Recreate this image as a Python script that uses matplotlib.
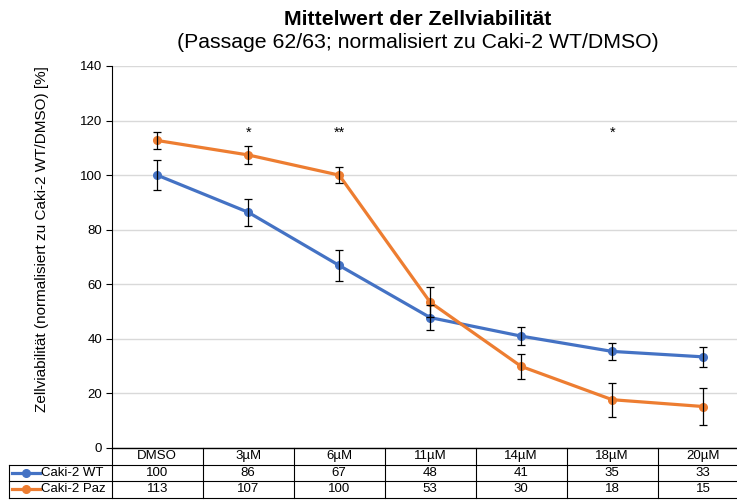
import numpy as np
import matplotlib.pyplot as plt

plt.rcParams['font.family'] = ['Liberation Sans', 'DejaVu Sans']

# Data
categories = ['DMSO', '3µM', '6µM', '11µM', '14µM', '18µM', '20µM']
series_names = ['Caki-2 WT', 'Caki-2 Paz']
wt_mean = [100.0, 86.4, 66.9, 47.8, 41.0, 35.4, 33.4]
paz_mean = [112.7, 107.4, 100.0, 53.4, 29.9, 17.7, 15.2]
wt_err = [5.4, 4.9, 5.6, 4.5, 3.2, 3.0, 3.7]
paz_err = [3.2, 3.4, 3.0, 5.5, 4.6, 6.2, 6.9]
stars = ['', '*', '**', '', '', '*', '']
star_level = 115.5
colors = ['#4472C4', '#ED7D31']

W, H = 737, 504
fig = plt.figure(figsize=(W / 100, H / 100), dpi=100)

# plot area (pixel based layout)
left_px, right_px = 111.7, 111.7 + 7 * 91
top_px, bottom_px = 66.0, 448.0
ax = fig.add_axes([left_px / W, 1 - bottom_px / H,
                   (right_px - left_px) / W, (bottom_px - top_px) / H])

x = np.arange(len(categories))
for means, errs, c, name in [(wt_mean, wt_err, colors[0], series_names[0]),
                             (paz_mean, paz_err, colors[1], series_names[1])]:
    ax.plot(x, means, color=c, lw=2.3, marker='o', ms=5.5, zorder=3, label=name)
    ax.errorbar(x, means, yerr=errs, fmt='none', ecolor='black', elinewidth=0.9,
                capsize=2.6, capthick=0.9, zorder=4)

for xi, s in zip(x, stars):
    if s:
        ax.text(xi, star_level, s, ha='center', va='center', fontsize=10.5)

ax.set_xlim(-0.5, len(categories) - 0.5)
ax.set_ylim(0, 140)
ax.set_yticks(np.arange(0, 141, 20))
ax.tick_params(axis='y', labelsize=9.5, length=4, width=0.8, color='black', pad=3)
ax.set_xticks([])
ax.yaxis.grid(True, color='#D9D9D9', lw=1)
ax.set_axisbelow(True)
for sp in ['top', 'right']:
    ax.spines[sp].set_visible(False)
ax.spines['left'].set_linewidth(0.8)
ax.spines['bottom'].set_linewidth(1.0)

# data table below the plot
tab_bottom_px = 497.5
tax = fig.add_axes([left_px / W, 1 - tab_bottom_px / H,
                    (right_px - left_px) / W, (tab_bottom_px - bottom_px) / H],
                   sharex=ax)
tax.set_ylim(3, 0)
tax.axis('off')

lab_left = -0.5 - (left_px - 9.3) / 91
fs = 9.5
lc = '#000000'
lw = 0.8
for i, cat in enumerate(categories):
    tax.text(i, 0.5, cat, ha='center', va='center', fontsize=fs)
    tax.text(i, 1.5, f'{wt_mean[i]:.0f}', ha='center', va='center', fontsize=fs)
    tax.text(i, 2.5, f'{paz_mean[i]:.0f}', ha='center', va='center', fontsize=fs)

for k in range(len(categories) + 1):
    tax.plot([k - 0.5, k - 0.5], [0, 3], color=lc, lw=lw, clip_on=False)
tax.plot([lab_left, lab_left], [1, 3], color=lc, lw=lw, clip_on=False)
for yy in [1, 2, 3]:
    tax.plot([lab_left, len(categories) - 0.5], [yy, yy], color=lc, lw=lw, clip_on=False)

# row labels with legend keys
key_x0 = lab_left + 3 / 91
key_x1 = lab_left + 31 / 91
for r, (name, c) in enumerate(zip(series_names, colors)):
    yy = 1.5 + r
    tax.plot([key_x0, key_x1], [yy, yy], color=c, lw=2.3, clip_on=False)
    tax.plot([(key_x0 + key_x1) / 2], [yy], color=c, marker='o', ms=5.5, clip_on=False)
    tax.text(key_x1 + 1 / 91, yy, name, ha='left', va='center', fontsize=fs)

# titles and axis label
fig.text(417.5 / W, 1 - 19.5 / H, 'Mittelwert der Zellviabilität', ha='center', va='center',
         fontsize=15.3, fontweight='bold')
fig.text(417.5 / W, 1 - 43 / H, '(Passage 62/63; normalisiert zu Caki-2 WT/DMSO)',
         ha='center', va='center', fontsize=15.3)
fig.text(41.7 / W, 1 - 239.5 / H, 'Zellviabilität (normalisiert zu Caki-2 WT/DMSO) [%]',
         ha='center', va='center', rotation=90, fontsize=11)

fig.savefig('out.png', dpi=100)
